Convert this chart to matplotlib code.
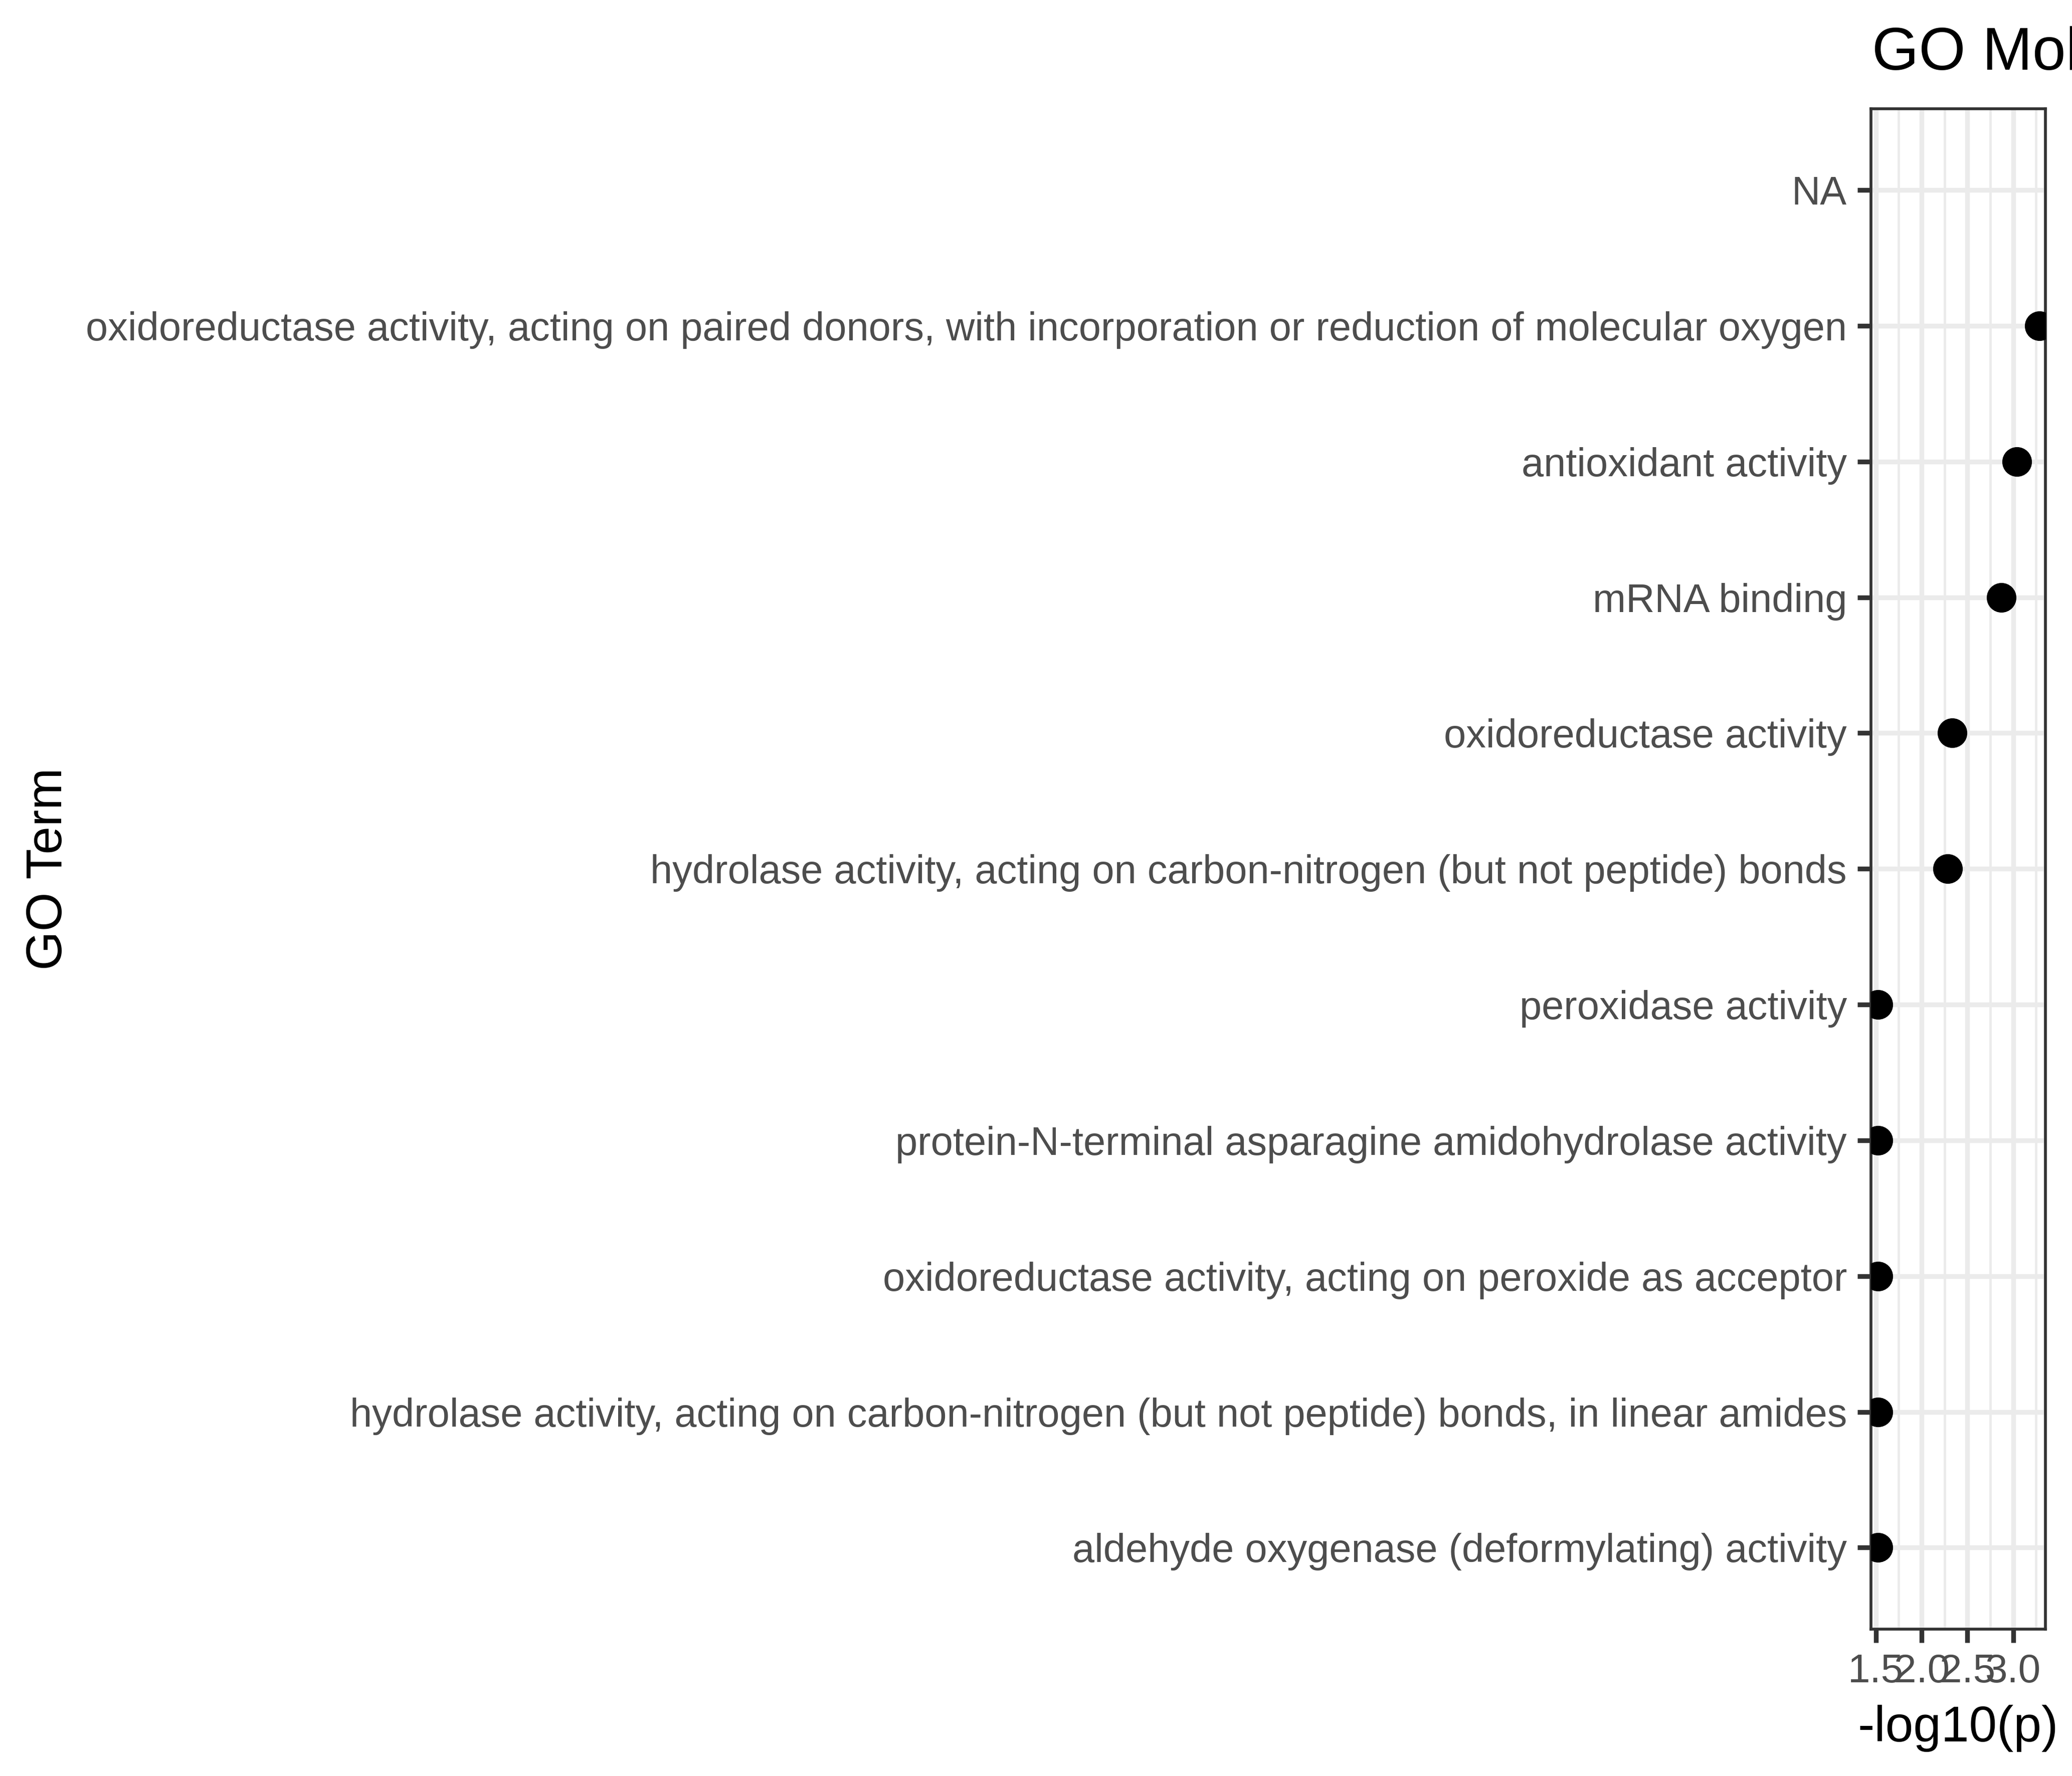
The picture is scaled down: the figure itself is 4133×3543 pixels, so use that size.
import numpy as np
import matplotlib
matplotlib.use("Agg")
import matplotlib.pyplot as plt
from matplotlib.ticker import FixedLocator

plt.rcParams['font.family'] = ['Liberation Sans', 'DejaVu Sans']

# GO terms, top to bottom as drawn
terms = [
    'NA',
    'oxidoreductase activity, acting on paired donors, with incorporation or reduction of molecular oxygen',
    'antioxidant activity',
    'mRNA binding',
    'oxidoreductase activity',
    'hydrolase activity, acting on carbon-nitrogen (but not peptide) bonds',
    'peroxidase activity',
    'protein-N-terminal asparagine amidohydrolase activity',
    'oxidoreductase activity, acting on peroxide as acceptor',
    'hydrolase activity, acting on carbon-nitrogen (but not peptide) bonds, in linear amides',
    'aldehyde oxygenase (deformylating) activity',
]
neglog_p = [np.nan, 3.287, 3.038, 2.871, 2.334, 2.286, 1.521, 1.521, 1.521, 1.521, 1.521]
x_major = [1.5, 2.0, 2.5, 3.0]
x_minor = [1.25, 1.75, 2.25, 2.75, 3.25]

W, H = 4133, 3543
DPI = 300
fig = plt.figure(figsize=(W / DPI, H / DPI), dpi=DPI)

# panel bounds in pixels
left, right, top, bottom = 3732, 4080, 216.5, 3250
ax = fig.add_axes([left / W, (H - bottom) / H, (right - left) / W, (bottom - top) / H])

ypos = np.arange(len(terms))[::-1]
ax.plot(neglog_p, ypos, 'o', color='black', markersize=14.2, markeredgewidth=0,
        linestyle='none', zorder=3)

ax.set_xlim(1.446, 3.353)
ax.set_ylim(-0.6, len(terms) - 0.4)
ax.xaxis.set_major_locator(FixedLocator(x_major))
ax.xaxis.set_minor_locator(FixedLocator(x_minor))
ax.set_xticklabels(['%.1f' % v for v in x_major])
ax.set_yticks(ypos)
ax.set_yticklabels(terms)

ax.set_axisbelow(True)
ax.grid(which='major', color='#EBEBEB', linewidth=2.28)
ax.grid(which='minor', axis='x', color='#EBEBEB', linewidth=1.15)

for s in ax.spines.values():
    s.set_color('#333333')
    s.set_linewidth(1.37)

ax.tick_params(which='major', length=6.5, width=2.28, color='#333333',
               labelsize=19.2, labelcolor='#4D4D4D', pad=5)
ax.tick_params(axis='y', labelsize=19.05)
ax.tick_params(which='minor', length=0)

fig.text(3734 / W, 1 - 139 / H, 'GO Molecular Function', fontsize=28.8,
         ha='left', va='baseline', color='black')
fig.text(3906 / W, 1 - 3474 / H, '-log10(p)', fontsize=24,
         ha='center', va='baseline', color='black')
fig.text(123 / W, 1 - 1733 / H, 'GO Term', fontsize=24, rotation=90,
         rotation_mode='anchor', ha='center', va='baseline', color='black')

fig.savefig('out.png', dpi=DPI, facecolor='white')
